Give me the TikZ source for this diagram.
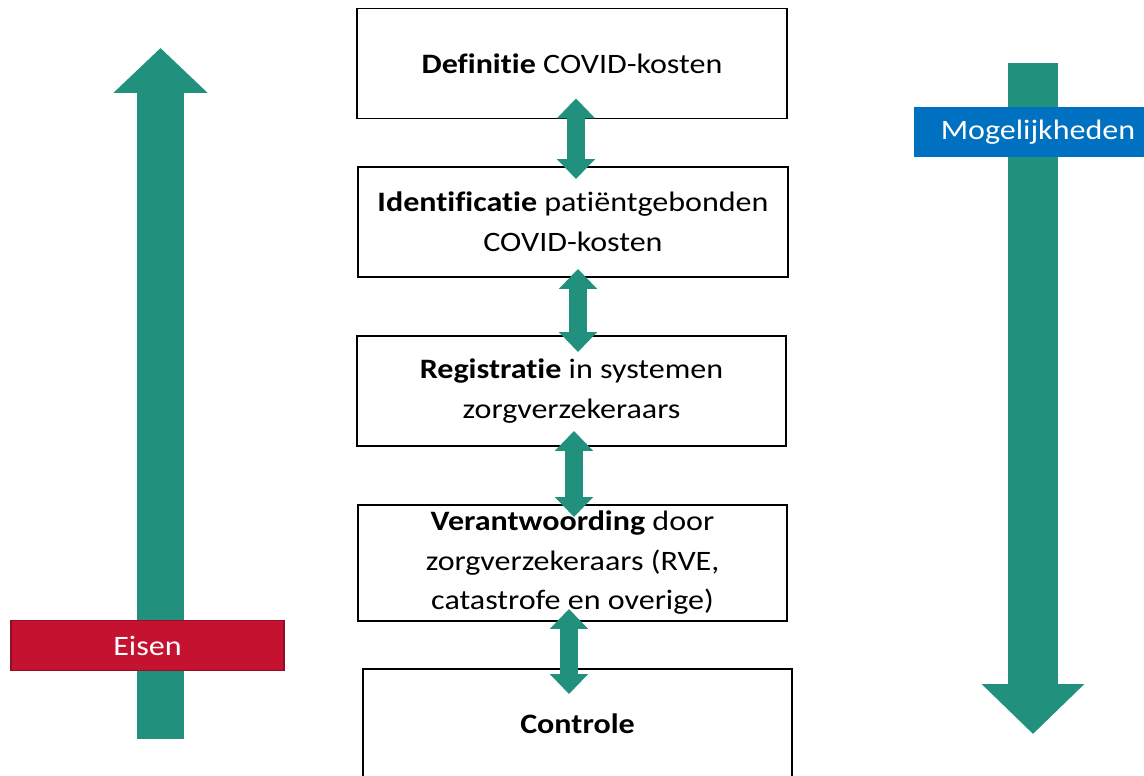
\documentclass[tikz,border=0pt]{standalone}
\usepackage{fontspec}
\setmainfont[FakeStretch=1.14, Ligatures=NoCommon]{Carlito}
\usetikzlibrary{arrows.meta,calc}
\definecolor{pijlgroen}{RGB}{33,145,126}
\definecolor{eisenrood}{RGB}{196,18,48}
\definecolor{mogblauw}{RGB}{0,112,192}

\begin{document}
\begin{tikzpicture}[x=0.02cm, y=-0.02cm,
            stap/.style ={draw, line width=1.1pt, fill=white, align=center, inner sep=0pt,
            minimum width=8.6cm, minimum height=2.2cm, font=\fontsize{16}{22.5}\selectfont},
            link/.style ={{Triangle[width=21pt,length=11.3pt]}-{Triangle[width=21pt,length=11.3pt]},
            line width=10.2pt, pijlgroen},
            groot/.style ={line width=27pt, pijlgroen},
            etiket/.style ={text=white, inner sep=0pt, minimum height=0.99cm,
            font=\fontsize{16}{19}\selectfont}]

            \useasboundingbox (0,0) rectangle (1144,776);

            % grote pijlen links en rechts
            \draw[groot, -{Triangle[width=52pt,length=25.5pt]}] (160.5,739) -- (160.5,48);
            \draw[groot, line width=28.4pt, -{Triangle[width=56.7pt,length=28.4pt]}] (1033,63) -- (1033,734);

            \node[etiket, fill=eisenrood, draw=eisenrood!75!black, line width=0.6pt, minimum width=5.46cm] (eisen) at (147.5,645.5) {Eisen};
            \node[etiket, fill=mogblauw, minimum width=4.96cm] (mog) at (1038,132) {Mogelijkheden};

            % stappen
            \node[stap] (def) at (572,63.5) {\textbf{Definitie} COVID-kosten};
            \node[stap] (ident) at (573,222) {\textbf{Identificatie} patiëntgebonden\\COVID-kosten};
            \node[stap] (reg) at (571.5,391) {\textbf{Registratie} in systemen\\zorgverzekeraars};
            \node[stap, minimum height=2.32cm] (verant) at (572.5,563) {\textbf{Verantwoording} door\\zorgverzekeraars (RVE,\\catastrofe en overige)};
            \node[stap] (contr) at (577.5,724) {\textbf{Controle}};

            \draw[link] ($(def.south)+(4,-21)$) -- ($(ident.north)+(3,13)$);
            \draw[link] ($(ident.south)+(5,-9)$) -- ($(reg.north)+(6.5,17)$);
            \draw[link] ($(reg.south)+(2.5,-16)$) -- ($(verant.north)+(1.5,13)$);
            \draw[link] ($(verant.south)+(-3.5,-13)$) -- ($(contr.north)+(-8.5,26)$);
        \end{tikzpicture}
\end{document}
